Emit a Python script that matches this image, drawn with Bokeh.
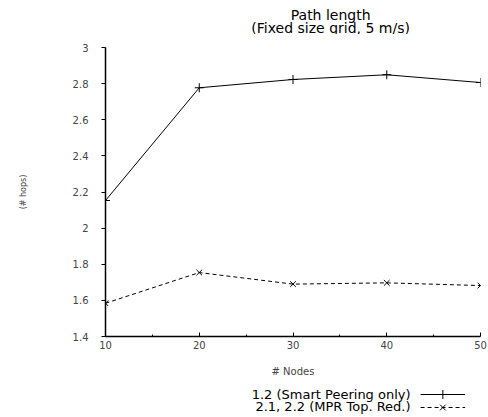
from bokeh.plotting import figure
from bokeh.models import Range1d, FixedTicker, PrintfTickFormatter
from bokeh.layouts import column
from bokeh.core.properties import value
from bokeh.embed import file_html
from bokeh.resources import INLINE

# ---- data ----
nodes = [10, 20, 30, 40, 50]
smart_peering = [2.153, 2.777, 2.823, 2.849, 2.806]
mpr_top_red = [1.584, 1.754, 1.690, 1.697, 1.682]
series_names = ["1.2 (Smart Peering only)", "2.1, 2.2 (MPR Top. Red.)"]
x_ticks = [10, 20, 30, 40, 50]
x_minor_ticks = [15, 25, 35, 45]
y_ticks = [1.4, 1.6, 1.8, 2.0, 2.2, 2.4, 2.6, 2.8, 3.0]
title_lines = ["Path length", "(Fixed size grid, 5 m/s)"]

FONT = "DejaVu Sans"
W = 488


def blank_panel(h):
    f = figure(width=W, height=h, output_backend="svg", toolbar_location=None,
               x_range=Range1d(0, W), y_range=Range1d(h, 0),
               x_axis_location=None, y_axis_location=None, min_border=0)
    f.outline_line_color = None
    f.grid.visible = False
    return f


# title panel
head = blank_panel(34)
head.text(x=[293, 293], y=[14, 27], text=title_lines, text_align="center",
          text_baseline="middle", text_font=value(FONT), text_font_size="14px",
          text_color="black")

# main plot
p = figure(width=W, height=351, output_backend="svg", toolbar_location=None,
           x_range=Range1d(10, 50), y_range=Range1d(1.4, 3.0),
           min_border_left=105, min_border_right=8, min_border_top=13,
           min_border_bottom=49)
p.outline_line_color = None
p.grid.visible = False

xa = p.xaxis[0]
xa.ticker = FixedTicker(ticks=x_ticks, minor_ticks=x_minor_ticks)
xa.axis_label = "# Nodes"
xa.axis_label_text_font = FONT
xa.axis_label_text_font_size = "10px"
xa.axis_label_text_font_style = "normal"
xa.axis_label_standoff = 14
xa.major_label_text_font = FONT
xa.major_label_text_font_size = "10px"
xa.major_label_standoff = 4
xa.major_tick_in = 4
xa.major_tick_out = 0
xa.minor_tick_in = 2
xa.minor_tick_out = 0
xa.axis_line_width = 1.5

ya = p.yaxis[0]
ya.ticker = FixedTicker(ticks=y_ticks, minor_ticks=[])
ya.formatter = PrintfTickFormatter(format="%.3g")
ya.axis_label = "(# hops)"
ya.axis_label_text_font = FONT
ya.axis_label_text_font_size = "8px"
ya.axis_label_text_font_style = "normal"
ya.axis_label_standoff = 42
ya.major_label_text_font = FONT
ya.major_label_text_font_size = "10px"
ya.major_label_standoff = 13
ya.major_tick_in = 0
ya.major_tick_out = 4
ya.minor_tick_line_color = None
ya.axis_line_width = 1.5

p.line(nodes, smart_peering, line_color="black", line_width=1)
p.scatter(nodes, smart_peering, marker="cross", size=9, line_color="black", line_width=1)
p.line(nodes, mpr_top_red, line_color="black", line_width=1, line_dash="4 3")
p.scatter(nodes, mpr_top_red, marker="x", size=8, line_color="black", line_width=1)

# legend panel (text on the left, sample on the right)
leg = blank_panel(32)
row_y = [9, 21]
leg.text(x=[397, 397], y=row_y, text=series_names, text_align="right",
         text_baseline="middle", text_font=value(FONT), text_font_size="13px",
         text_color="black")
leg.segment(x0=[410], y0=[9], x1=[468], y1=[9], line_color="black", line_width=1)
leg.segment(x0=[410], y0=[22], x1=[468], y1=[22], line_color="black",
            line_width=1, line_dash="4 3")
leg.scatter(x=[439], y=[9], marker="cross", size=9, line_color="black")
leg.scatter(x=[439], y=[22], marker="x", size=8, line_color="black")

layout = column(head, p, leg, spacing=0)
open("out.html", "w").write(file_html(layout, INLINE))
